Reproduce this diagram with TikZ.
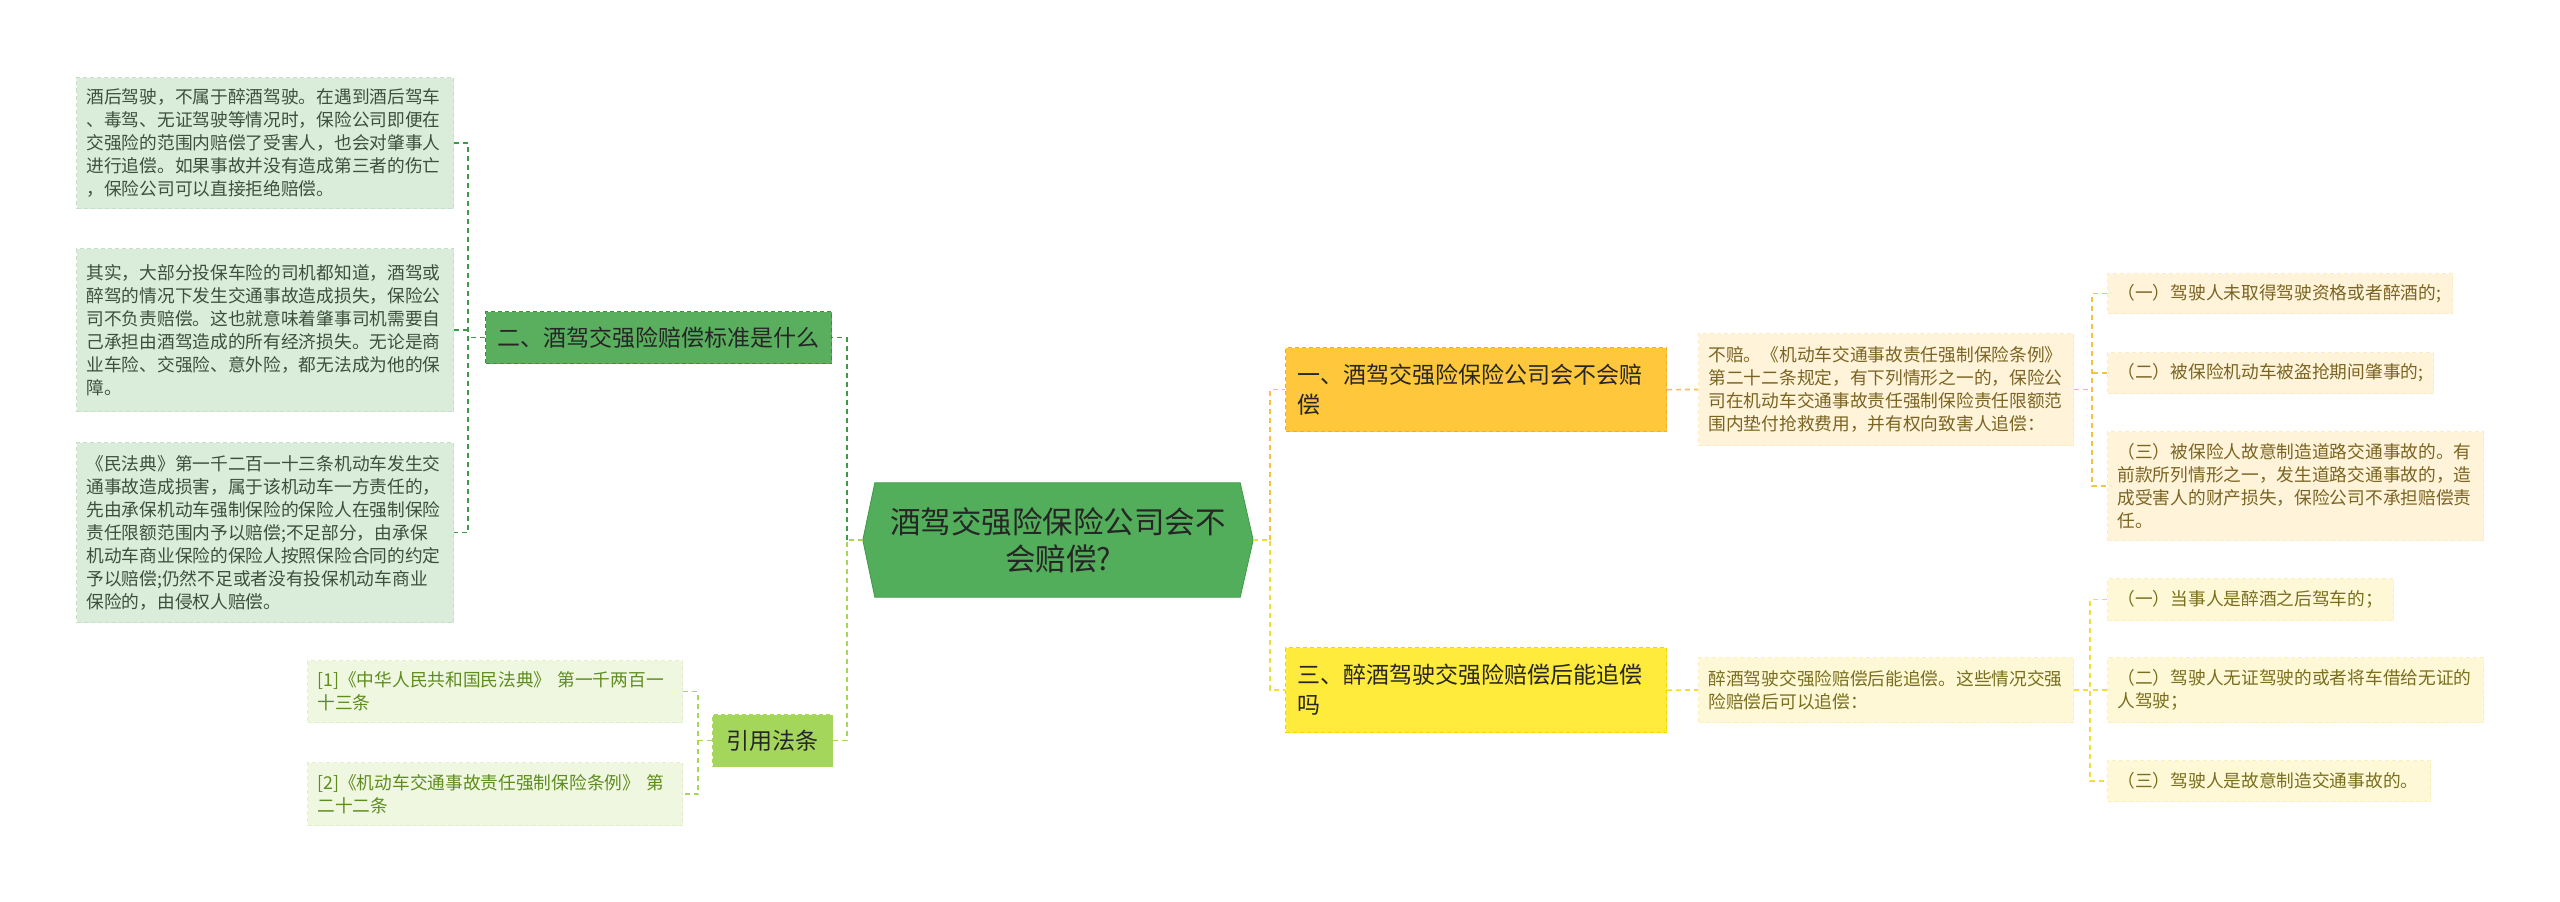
\documentclass[tikz,border=0pt]{standalone}
\usepackage{fontspec}
\newfontfamily\cjk{Noto Sans CJK SC}
\usetikzlibrary{backgrounds}
\definecolor{rootfill}{HTML}{52AE5A}
\definecolor{rootline}{HTML}{3F9A48}
\definecolor{btwofill}{HTML}{5AAF5E}
\definecolor{btwoline}{HTML}{3C8C42}
\definecolor{lgfill}{HTML}{DAECDA}
\definecolor{lgline}{HTML}{C6DEC6}
\definecolor{lgtext}{HTML}{3D4F3D}
\definecolor{limefill}{HTML}{A5D65C}
\definecolor{limeline}{HTML}{A8D65A}
\definecolor{reffill}{HTML}{EFF7E1}
\definecolor{refline}{HTML}{E2EFCC}
\definecolor{reftext}{HTML}{5E8C1E}
\definecolor{bonefill}{HTML}{FFC83C}
\definecolor{boneline}{HTML}{F0B020}
\definecolor{bthreefill}{HTML}{FFEB3B}
\definecolor{bthreeline}{HTML}{F2D600}
\definecolor{creamA}{HTML}{FFF4DA}
\definecolor{creamAline}{HTML}{FCEBC4}
\definecolor{textA}{HTML}{7B6422}
\definecolor{creamB}{HTML}{FFF8D6}
\definecolor{creamBline}{HTML}{FAF0BE}
\definecolor{textB}{HTML}{786E1D}
\definecolor{connA}{HTML}{F5C242}
\definecolor{connB}{HTML}{F2DE3A}
\tikzset{
  smallfont/.style={font={\cjk\fontsize{17.7pt}{23pt}\selectfont}},
  box/.style={rectangle, anchor=north west, align=left, inner xsep=10pt, inner ysep=0pt, dashed, dash pattern=on 4pt off 3pt, line width=1pt},
  leafG/.style={box, smallfont, fill=lgfill, draw=lgline, text=lgtext},
  refbox/.style={box, smallfont, fill=reffill, draw=refline, text=reftext},
  leafA/.style={box, smallfont, fill=creamA, draw=creamAline, text=textA},
  leafB/.style={box, smallfont, fill=creamB, draw=creamBline, text=textB},
  branch/.style={box, font={\cjk\fontsize{23pt}{30pt}\selectfont}, inner xsep=12pt, line width=1.2pt},
  conn/.style={line width=1.6pt, dash pattern=on 5pt off 4pt},
}
\begin{document}
\begin{tikzpicture}[x=1pt,y=-1pt]
\useasboundingbox (0,0) rectangle (2560,902);

% root
\node[font={\cjk\fontsize{30.5pt}{37pt}\selectfont}, text=black!85, align=center, minimum width=390pt, minimum height=114pt, inner sep=0pt] (root) at (1058,540) {酒驾交强险保险公司会不\\会赔偿?};
\begin{scope}[on background layer]
\fill[white] (0,0) rectangle (2560,902);
\filldraw[fill=rootfill, draw=rootline, line width=0.8pt] (root.west) -- ([xshift=12pt]root.north west) -- ([xshift=-13pt]root.north east) -- (root.east) -- ([xshift=-13pt]root.south east) -- ([xshift=12pt]root.south west) -- cycle;
\end{scope}

% left branch
\node[branch, fill=btwofill, draw=btwoline, text=black!85, text width=322pt, minimum height=52pt] (b2) at (485,311) {二、酒驾交强险赔偿标准是什么};
\node[branch, fill=limefill, draw=limeline, text=black!85, align=center, inner xsep=0pt, text width=120pt, minimum height=52pt] (cite) at (712,714) {引用法条};

% left leaves
\node[leafG, text width=357pt, minimum height=131pt] (l1) at (76,77) {酒后驾驶，不属于醉酒驾驶。在遇到酒后驾车\\、毒驾、无证驾驶等情况时，保险公司即便在\\交强险的范围内赔偿了受害人，也会对肇事人\\进行追偿。如果事故并没有造成第三者的伤亡\\，保险公司可以直接拒绝赔偿。};
\node[leafG, text width=357pt, minimum height=163pt] (l2) at (76,248) {其实，大部分投保车险的司机都知道，酒驾或\\醉驾的情况下发生交通事故造成损失，保险公\\司不负责赔偿。这也就意味着肇事司机需要自\\己承担由酒驾造成的所有经济损失。无论是商\\业车险、交强险、意外险，都无法成为他的保\\障。};
\node[leafG, text width=357pt, minimum height=180pt] (l3) at (76,442) {《民法典》第一千二百一十三条机动车发生交\\通事故造成损害，属于该机动车一方责任的，\\先由承保机动车强制保险的保险人在强制保险\\责任限额范围内予以赔偿;不足部分，由承保\\机动车商业保险的保险人按照保险合同的约定\\予以赔偿;仍然不足或者没有投保机动车商业\\保险的，由侵权人赔偿。};

% refs
\node[refbox, text width=355pt, minimum height=62pt] (r1) at (307,660) {[1]《中华人民共和国民法典》 第一千两百一\\十三条};
\node[refbox, text width=355pt, minimum height=63pt] (r2) at (307,762) {[2]《机动车交通事故责任强制保险条例》 第\\二十二条};

% right branches
\node[branch, fill=bonefill, draw=boneline, text=black!85, text width=357pt, minimum height=84pt] (b1) at (1285,347) {一、酒驾交强险保险公司会不会赔\\偿};
\node[branch, fill=bthreefill, draw=bthreeline, text=black!85, text width=357pt, minimum height=85pt] (b3) at (1285,647) {三、醉酒驾驶交强险赔偿后能追偿\\吗};

% descriptions
\node[leafA, text width=355pt, minimum height=112pt] (d1) at (1698,333) {不赔。《机动车交通事故责任强制保险条例》\\第二十二条规定，有下列情形之一的，保险公\\司在机动车交通事故责任强制保险责任限额范\\围内垫付抢救费用，并有权向致害人追偿：};
\node[leafB, text width=355pt, minimum height=65pt] (d3) at (1698,657) {醉酒驾驶交强险赔偿后能追偿。这些情况交强\\险赔偿后可以追偿：};

% right leaves
\node[leafA, text width=325pt, minimum height=40pt] (a1) at (2107,273) {（一）驾驶人未取得驾驶资格或者醉酒的;};
\node[leafA, text width=306pt, minimum height=41pt] (a2) at (2107,352) {（二）被保险机动车被盗抢期间肇事的;};
\node[leafA, text width=356pt, minimum height=109pt] (a3) at (2107,431) {（三）被保险人故意制造道路交通事故的。有\\前款所列情形之一，发生道路交通事故的，造\\成受害人的财产损失，保险公司不承担赔偿责\\任。};
\node[leafB, text width=266pt, minimum height=42pt] (c1) at (2107,578) {（一）当事人是醉酒之后驾车的；};
\node[leafB, text width=356pt, minimum height=65pt] (c2) at (2107,657) {（二）驾驶人无证驾驶的或者将车借给无证的\\人驾驶；};
\node[leafB, text width=303pt, minimum height=41pt] (c3) at (2107,760) {（三）驾驶人是故意制造交通事故的。};

% spine coordinates
\coordinate (sL) at (847,0);
\coordinate (sLL) at (468,0);
\coordinate (sRef) at (698,0);
\coordinate (sR) at (1270,0);
\coordinate (sA) at (2092,0);
\coordinate (sB) at (2090,0);

% connectors left
\draw[conn, draw=rootline] (root.west -| sL) |- (b2.east);
\draw[conn, draw=limeline] (root.west) -- (root.west -| sL) |- (cite.east);
\draw[conn, draw=rootline] (b2.west) -- (b2.west -| sLL);
\draw[conn, draw=rootline] (l1.east) -- (l1.east -| sLL) -- (l3.east -| sLL) -- (l3.east);
\draw[conn, draw=rootline] (l2.east) -- (l2.east -| sLL);
\draw[conn, draw=limeline] (cite.west) -- (cite.west -| sRef);
\draw[conn, draw=limeline] (r1.east) -- (r1.east -| sRef) -- (r2.east -| sRef) -- (r2.east);

% connectors right
\draw[conn, draw=connA] (root.east -| sR) |- (b1.west);
\draw[conn, draw=connB] (root.east) -- (root.east -| sR) |- (b3.west);
\draw[conn, draw=connA] (b1.east) -- (d1.west);
\draw[conn, draw=connB] (b3.east) -- (d3.west);
\draw[conn, draw=connA] (d1.east) -- (d1.east -| sA);
\draw[conn, draw=connA] (a1.west) -- (a1.west -| sA) -- (a3.west -| sA) -- (a3.west);
\draw[conn, draw=connA] (a2.west) -- (a2.west -| sA);
\draw[conn, draw=connB] (d3.east) -- (d3.east -| sB);
\draw[conn, draw=connB] (c1.west) -- (c1.west -| sB) -- (c3.west -| sB) -- (c3.west);
\draw[conn, draw=connB] (c2.west) -- (c2.west -| sB);
\end{tikzpicture}
\end{document}
